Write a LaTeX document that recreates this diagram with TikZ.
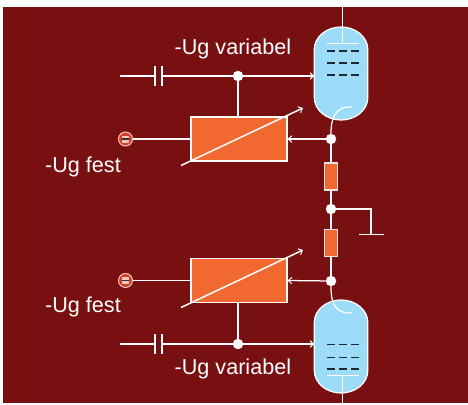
\documentclass[tikz,border=0pt]{standalone}
\usepackage{fontspec}
\setmainfont{Liberation Sans}
\usetikzlibrary{arrows.meta}
\definecolor{bgred}{HTML}{781012}
\definecolor{tubeblue}{HTML}{9CDCF8}
\definecolor{boxorange}{HTML}{F26831}
\definecolor{gridink}{HTML}{1E2A32}
\definecolor{termred}{HTML}{D8382C}
\definecolor{termpale}{HTML}{F6C8B8}
\tikzset{
  wire/.style={draw=white,line width=1.25pt},
  arrowwire/.style={wire,-{Straight Barb[length=3.5pt,width=6.5pt,line width=1pt]}},
  dot/.style={circle,fill=white,inner sep=0pt,minimum size=10.5pt},
  ctrlbox/.style={rectangle,draw=white,fill=boxorange,line width=1.25pt,minimum width=96pt,minimum height=44pt,inner sep=0pt},
  resistor/.style={rectangle,draw=white!90!black,fill=boxorange,line width=1.25pt,minimum width=13.5pt,minimum height=27pt,inner sep=0pt},
  tubeanchor/.style={rectangle,minimum width=53.5pt,minimum height=93pt,inner sep=0pt},
  tubebody/.style={draw=white,fill=tubeblue,line width=1.25pt},
  gridbar/.style={draw=gridink,line width=1.2pt},
  terminal/.style={circle,draw=termpale,fill=termred,line width=1pt,minimum size=14pt,inner sep=0pt},
  lbl/.style={text=white,font=\fontsize{21.6}{24}\selectfont,inner sep=0pt,anchor=base west},
}
\newcommand{\tubeshape}[1]{%
  \path[tubebody] (#1.west) ++(0,24) arc[start angle=180,end angle=90,x radius=26.75,y radius=22.5]
     arc[start angle=90,end angle=0,x radius=26.75,y radius=22.5]
     -- ++(0,-48) arc[start angle=0,end angle=-90,x radius=26.75,y radius=22.5]
     arc[start angle=-90,end angle=-180,x radius=26.75,y radius=22.5] -- cycle;}
\newcommand{\gridrow}[1]{%
  \foreach \xa/\xb in {327/335,339/347,351/359}{\path[gridbar] (\xa,#1) -- (\xb,#1);}}
\begin{document}
\begin{tikzpicture}[x=1pt,y=-1pt]
\useasboundingbox (0,0) rectangle (468,404);
\fill[bgred] (3,7) rectangle (468,403);
% anchors
\node[tubeanchor] (t1) at (341.25,73.5) {};
\node[tubeanchor] (t2) at (341.25,346.5) {};
\tubeshape{t1}
\tubeshape{t2}
% dots and boxes
\node[dot] (k1) at (331,139) {};
\node[dot] (mid) at (331,209) {};
\node[dot] (k2) at (331,281) {};
\node[dot] (g1) at (238,76) {};
\node[dot] (g2) at (238,344) {};
\node[ctrlbox] (b1) at (239,139) {};
\node[ctrlbox] (b2) at (239,280.5) {};
\node[resistor] (r1) at (331,176.5) {};
\node[resistor] (r2) at (331,243) {};
\node[terminal] (f1) at (125.5,139) {};
\node[terminal] (f2) at (125.5,280.5) {};
\foreach \n in {f1,f2}{
  \fill[termpale] ([xshift=-3.5pt,yshift=3.5pt]\n.center) rectangle ([xshift=3.5pt,yshift=-3.5pt]\n.center);
  \fill[black!80] ([xshift=-3.5pt,yshift=.9pt]\n.center) rectangle ([xshift=3.5pt,yshift=-.9pt]\n.center);
}
% named free ends
\coordinate (topend) at (342.5,7);
\coordinate (plate1) at (342.5,43.5);
\coordinate (botend) at (342.5,403);
\coordinate (plate2) at (342.5,375.5);
\coordinate (in1) at (120,76);
\coordinate (in2) at (120,344);
\coordinate (c1a) at (155,76);
\coordinate (c1b) at (162,76);
\coordinate (c2a) at (155,344);
\coordinate (c2b) at (162,344);
\coordinate (gc) at (371,209);
\coordinate (gb) at (371,234.5);
% tube internals
\draw[wire] (topend) -- (plate1);
\draw[wire] (327,43.5) -- (358.5,43.5);
\draw[wire] (botend) -- (plate2);
\draw[wire] (327,375.5) -- (358.5,375.5);
\gridrow{51}\gridrow{63}\gridrow{75}
\gridrow{344.5}\gridrow{357.5}\gridrow{369}
\draw[wire] (k1) .. controls (331,122) and (333,106) .. (352,107);
\draw[wire] (k2) .. controls (331,300) and (333,314) .. (352,313);
% grid inputs
\draw[wire] (in1) -- (c1a);
\draw[wire] (c1b) -- (g1);
\draw[wire] (155,66) -- (155,85.5);
\draw[wire] (162,66) -- (162,85.5);
\draw[arrowwire] (g1) -- (t1.west |- g1);
\draw[wire] (g1) -- (g1 |- b1.north);
\draw[wire] (in2) -- (c2a);
\draw[wire] (c2b) -- (g2);
\draw[wire] (155,334) -- (155,354);
\draw[wire] (162,334) -- (162,354);
\draw[arrowwire] (g2) -- (t2.west |- g2);
\draw[wire] (g2) -- (g2 |- b2.south);
% fixed bias
\draw[wire] (f1) -- (b1);
\draw[wire] (f2) -- (b2);
% feedback
\draw[arrowwire] (k1) -- (b1.east);
\draw[arrowwire] (k2) -- (b2.east);
% variable slashes
\draw[arrowwire,line width=1.5pt] (181,165.5) -- (303,108);
\draw[arrowwire,line width=1.5pt] (181,307.5) -- (303,250);
% chain
\draw[wire] (k1) -- (r1);
\draw[wire] (r1) -- (mid);
\draw[wire] (mid) -- (r2);
\draw[wire] (r2) -- (k2);
% ground
\draw[wire] (mid) -- (gc) -- (gb);
\draw[wire] (359,234.5) -- (383.5,234.5);
% labels
\node[lbl] (u1) at (174.5,55) {-Ug variabel};
\node[lbl] (u2) at (174.5,374) {-Ug variabel};
\node[lbl] (u3) at (45,172) {-Ug fest};
\node[lbl] (u4) at (45,312.5) {-Ug fest};
\end{tikzpicture}
\end{document}
